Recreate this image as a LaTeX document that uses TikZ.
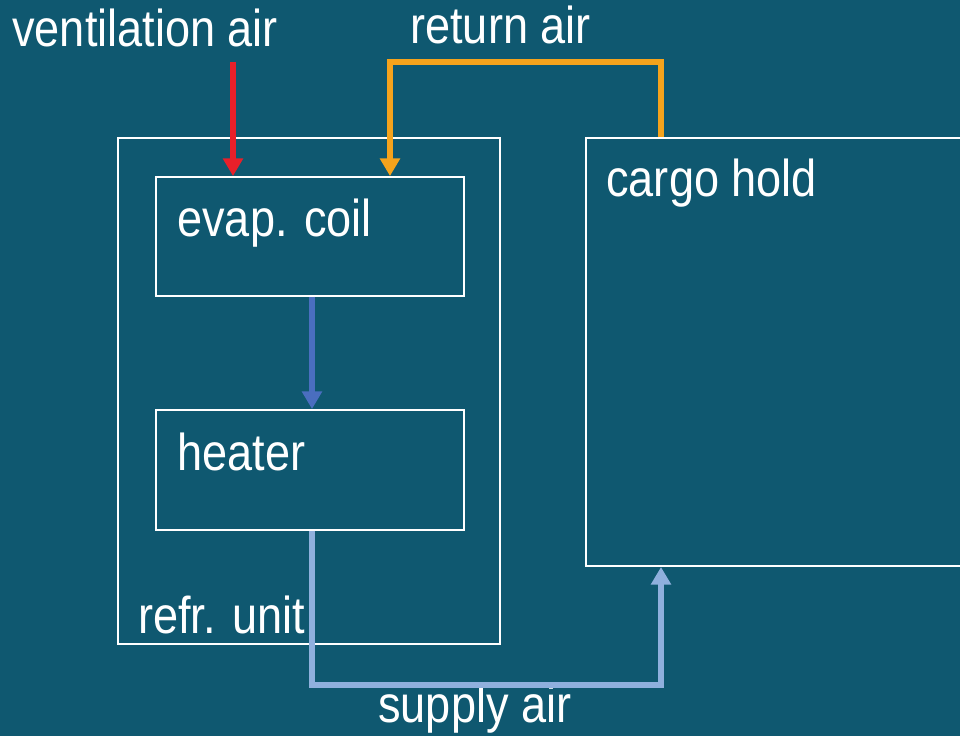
\documentclass[tikz,border=0pt]{standalone}
\usepackage{fontspec}
\setmainfont[FakeStretch=0.87]{Liberation Sans}
\usepackage{tikz}
\usetikzlibrary{
    arrows.meta,
    calc
}
\definecolor{bgteal}{HTML}{0F5870}
\definecolor{ventred}{HTML}{E8202A}
\definecolor{retorange}{HTML}{F5A31C}
\definecolor{coilblue}{HTML}{4A6EBF}
\definecolor{supblue}{HTML}{8FB0DD}
\tikzset{
    box/.style={draw=white, line width=1.1pt, rectangle, inner sep=0pt, anchor=south west},
    lbl/.style={text=white, inner sep=0pt, anchor=base west, font=\fontsize{29.5}{34}\selectfont},
    flow/.style={line width=3.4pt, -{Triangle[width=11pt,length=10pt]}}
}

\begin{document}
\begin{tikzpicture}
            % Canvas
            \useasboundingbox (0,0) rectangle (19.2,14.72);
            \clip (0,0) rectangle (19.2,14.72);
            \fill[bgteal] (0,0) rectangle (19.2,14.72);

            % Boxes
            \node[box, minimum width=7.64cm, minimum height=10.12cm] (unit) at (2.34,1.82) {};
            \node[box, minimum width=6.16cm, minimum height=2.38cm] (evap) at (3.10,8.78) {};
            \node[box, minimum width=6.16cm, minimum height=2.40cm] (heater) at (3.10,4.10) {};
            \node[box, minimum width=8.2cm, minimum height=8.56cm] (cargo) at (11.70,3.38) {};

            % Labels
            \node[lbl] (ventlbl) at (0.24,13.78) {ventilation air};
            \node[lbl] (retlbl) at (8.20,13.84) {return air};
            \node[lbl] (evaplbl) at (3.54,9.98) {evap. coil};
            \node[lbl] (heatlbl) at (3.54,5.30) {heater};
            \node[lbl] (unitlbl) at (2.76,2.06) {refr. unit};
            \node[lbl] (cargolbl) at (12.12,10.78) {cargo hold};
            \node[lbl] (suplbl) at (7.56,0.28) {supply air};

            % Air paths
            \coordinate (ventin) at (4.66,13.48);
            \coordinate (retR) at (13.22,13.48);
            \coordinate (retL) at (7.80,13.48);
            \coordinate (supL) at (6.24,1.02);
            \coordinate (supR) at (13.22,1.02);

            \draw[flow, ventred] (ventin) -- (ventin |- evap.north);
            \draw[flow, retorange] (retR |- cargo.north) -- (retR) -- (retL) -- (retL |- evap.north);
            \draw[flow, coilblue] (supL |- evap.south) -- (supL |- heater.north);
            \draw[flow, supblue] (supL |- heater.south) -- (supL) -- (supR) -- (supR |- cargo.south);
        \end{tikzpicture}
\end{document}
